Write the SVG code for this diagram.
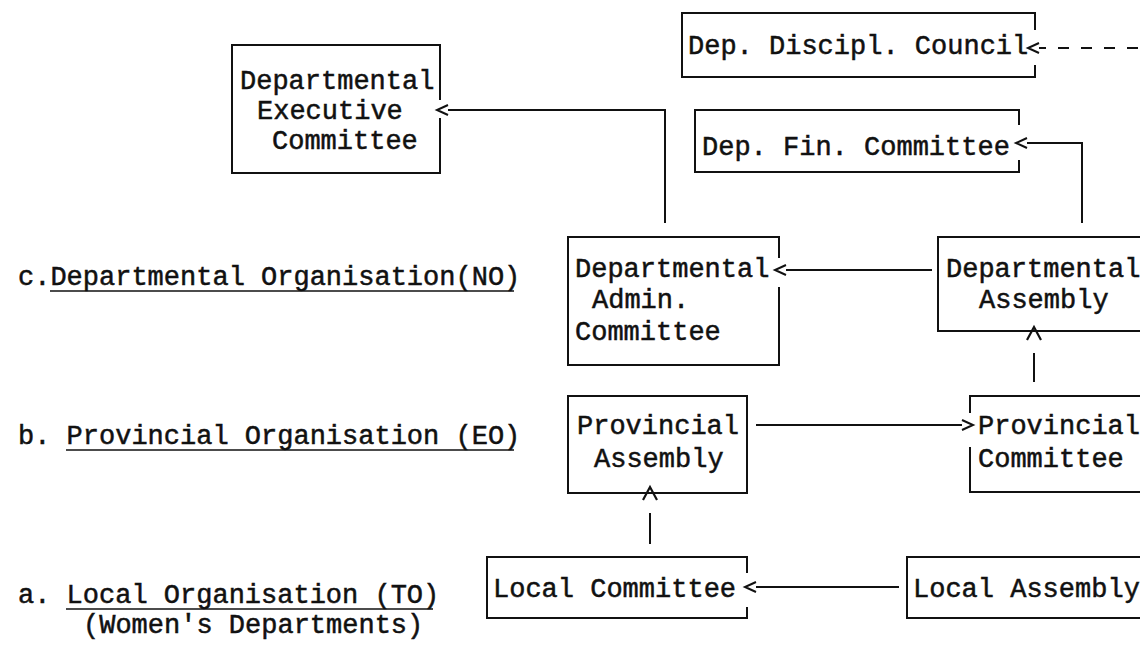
<svg xmlns="http://www.w3.org/2000/svg" width="1140" height="648" viewBox="0 0 1140 648">
<style>
.box{fill:none;stroke:#111;stroke-width:2}
.con{fill:none;stroke:#111;stroke-width:2}
.dash{stroke-dasharray:11 12}
.t{font-family:"Liberation Mono","DejaVu Sans Mono",monospace;font-size:27px;fill:#111;stroke:#111;stroke-width:0.5}
.ul{stroke:#111;stroke-width:1.6}
</style>
<defs>
<marker id="chev" markerUnits="userSpaceOnUse" markerWidth="30" markerHeight="20" viewBox="-2 -10 30 20" refX="0" refY="0" orient="auto" overflow="visible">
<path d="M0,-5 L11,0 L0,5" fill="none" stroke="#111" stroke-width="2"/>
</marker>
<marker id="lam" markerUnits="userSpaceOnUse" markerWidth="30" markerHeight="20" viewBox="-2 -10 30 20" refX="0" refY="0" orient="auto" overflow="visible">
<path d="M13,-7 L26,0 L13,7" fill="none" stroke="#111" stroke-width="2.2"/>
</marker>
</defs>
<rect width="1140" height="648" fill="#fff"/>

<g id="labels">
<text class="t" x="18" y="285">c.Departmental Organisation(NO)</text>
<line class="ul" x1="50" y1="291" x2="514" y2="291"/>
<text class="t" x="18" y="444">b. Provincial Organisation (EO)</text>
<line class="ul" x1="66" y1="450" x2="514" y2="450"/>
<text class="t" x="18" y="603">a. Local Organisation (TO)</text>
<line class="ul" x1="66" y1="609" x2="433" y2="609"/>
<text class="t" x="83" y="633">(Women's Departments)</text>
</g>

<g id="dept-exec-committee">
<path class="box" d="M440,100 V45 H232 V173 H440 V118"/>
<text class="t" x="240" y="89">Departmental</text>
<text class="t" x="257" y="119">Executive</text>
<text class="t" x="272" y="149">Committee</text>
</g>

<g id="dep-discipl-council">
<path class="box" d="M1035,30 V13 H682 V77 H1035 V65"/>
<text class="t" x="688" y="54">Dep. Discipl. Council</text>
</g>

<g id="dep-fin-committee">
<path class="box" d="M1019,125 V110 H695 V172 H1019 V160"/>
<text class="t" x="702" y="155">Dep. Fin. Committee</text>
</g>

<g id="dept-admin-committee">
<path class="box" d="M779,258 V237 H568 V365 H779 V287"/>
<text class="t" x="575" y="277">Departmental</text>
<text class="t" x="592" y="308">Admin.</text>
<text class="t" x="575" y="340">Committee</text>
</g>

<g id="dept-assembly">
<path class="box" d="M1141,237 H938 V331 H1141"/>
<text class="t" x="946" y="277">Departmental</text>
<text class="t" x="979" y="308">Assembly</text>
</g>

<g id="prov-assembly">
<rect class="box" x="568" y="396" width="179" height="97"/>
<text class="t" x="577" y="434">Provincial</text>
<text class="t" x="594" y="467">Assembly</text>
</g>

<g id="prov-committee">
<path class="box" d="M970,413 V396 H1141 M970,447 V492 H1141"/>
<text class="t" x="978" y="434">Provincial</text>
<text class="t" x="978" y="467">Committee</text>
</g>

<g id="local-committee">
<path class="box" d="M747,573 V557 H487 V618 H747 V607"/>
<text class="t" x="493" y="597">Local Committee</text>
</g>

<g id="local-assembly">
<path class="box" d="M1141,557 H907 V618 H1141"/>
<text class="t" x="913" y="597">Local Assembly</text>
</g>

<g id="connectors">
<path class="con" d="M665,223 V110 H448" marker-end="url(#chev)"/>
<path class="con dash" d="M1138,48 H1039" marker-end="url(#chev)"/>
<path class="con" d="M1082,223 V143 H1027" marker-end="url(#chev)"/>
<path class="con" d="M932,270 H786" marker-end="url(#chev)"/>
<path class="con" d="M1034,382 V353" marker-end="url(#lam)"/>
<path class="con" d="M756,425 H962" marker-end="url(#chev)"/>
<path class="con" d="M650,544 V513" marker-end="url(#lam)"/>
<path class="con" d="M899,587 H756" marker-end="url(#chev)"/>
</g>
</svg>
